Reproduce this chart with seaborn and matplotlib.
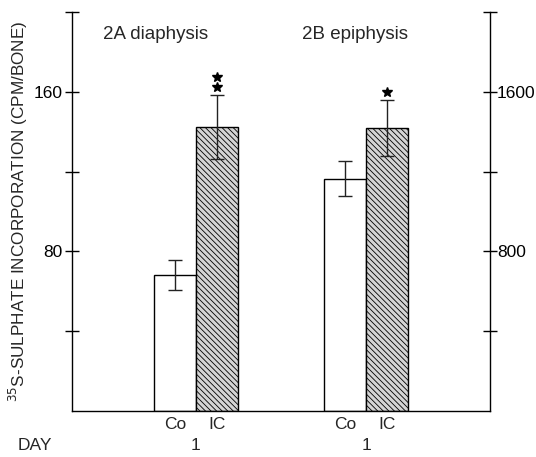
import matplotlib
matplotlib.use("Agg")
import matplotlib.pyplot as plt
import seaborn as sns
import pandas as pd

# values (CPM/bone)
groups = ["Co", "IC", "Co", "IC"]
sites = ["diaphysis", "diaphysis", "epiphysis", "epiphysis"]
positions = [2.45, 3.45, 6.5, 7.5]
means = [68, 142.5, 116.5, 142]
errors = [7.5, 16, 8.7, 14]
stars = [0, 2, 0, 1]
panel_titles = ["2A diaphysis", "2B epiphysis"]
day_labels = ["1", "1"]

sns.set_theme(style="white")
plt.rcParams["font.family"] = ["Liberation Sans", "DejaVu Sans"]
plt.rcParams["hatch.linewidth"] = 0.6
plt.rcParams["hatch.color"] = "#333333"

df = pd.DataFrame({"pos": positions, "mean": means, "group": groups, "site": sites})

fig = plt.figure(figsize=(5.36, 4.57), dpi=100)
ax = fig.add_axes([0.1343, 0.1007, 0.7799, 0.873])

sns.barplot(data=df, x="pos", y="mean", native_scale=True, width=1.0,
            color="white", edgecolor="black", linewidth=1.0, ax=ax)
for patch, g in zip(ax.patches, groups):
    patch.set_facecolor("white")
    if g == "IC":
        patch.set_hatch("\\\\\\\\\\\\")
        patch.set_facecolor("#d4d4d4")

ax.errorbar(positions, means, yerr=errors, fmt="none", ecolor="#222222",
            elinewidth=1.0, capsize=5, capthick=1.0)

# significance marks above the error bars
star_x, star_y = [], []
for x, m, e, n in zip(positions, means, errors, stars):
    for k in range(n):
        star_x.append(x)
        star_y.append(m + e + 4 + k * 5)
ax.plot(star_x, star_y, linestyle="none", marker="*", markersize=7,
        color="black")

ax.set_xlim(0, 9.95)
ax.set_ylim(0, 200)
for s in ["top", "right"]:
    ax.spines[s].set_visible(False)
ax.spines["left"].set_bounds(0, 200)
for s in ["left", "bottom"]:
    ax.spines[s].set_color("black")
    ax.spines[s].set_linewidth(1.0)

ax.set_xticks([])
ax.set_xlabel("")
ax.set_yticks([40, 80, 120, 160, 200])
ax.set_yticklabels(["", "80", "", "160", ""])
ax.tick_params(axis="y", direction="inout", length=10, width=1, colors="black",
               labelsize=12.5, pad=2, left=True)
ax.set_ylabel("$^{35}$S-SULPHATE INCORPORATION (CPM/BONE)", fontsize=12.3,
              labelpad=2)

ax2 = ax.twinx()
ax2.set_ylim(0, 2000)
for s in ["top", "left", "bottom"]:
    ax2.spines[s].set_visible(False)
ax2.spines["right"].set_color("black")
ax2.spines["right"].set_linewidth(1.0)
ax2.set_yticks([400, 800, 1200, 1600, 2000])
ax2.set_yticklabels(["", "800", "", "1600", ""])
ax2.tick_params(axis="y", direction="inout", length=10, width=1, colors="black",
                labelsize=12.5, pad=0, right=True)
ax2.grid(False)

# panel titles and category labels
ax.text(2.0, 188.5, panel_titles[0], ha="center", va="center", fontsize=13.5)
ax.text(6.74, 188.5, panel_titles[1], ha="center", va="center", fontsize=13.5)
for x, g in zip(positions, groups):
    ax.text(x, -7, g, ha="center", va="center", fontsize=12.5)
for x, d in zip([2.95, 7.0], day_labels):
    ax.text(x, -17.5, d, ha="center", va="center", fontsize=12.5)
ax.text(-0.88, -17.5, "DAY", ha="center", va="center", fontsize=12.5)

fig.savefig("out.png", dpi=100)
